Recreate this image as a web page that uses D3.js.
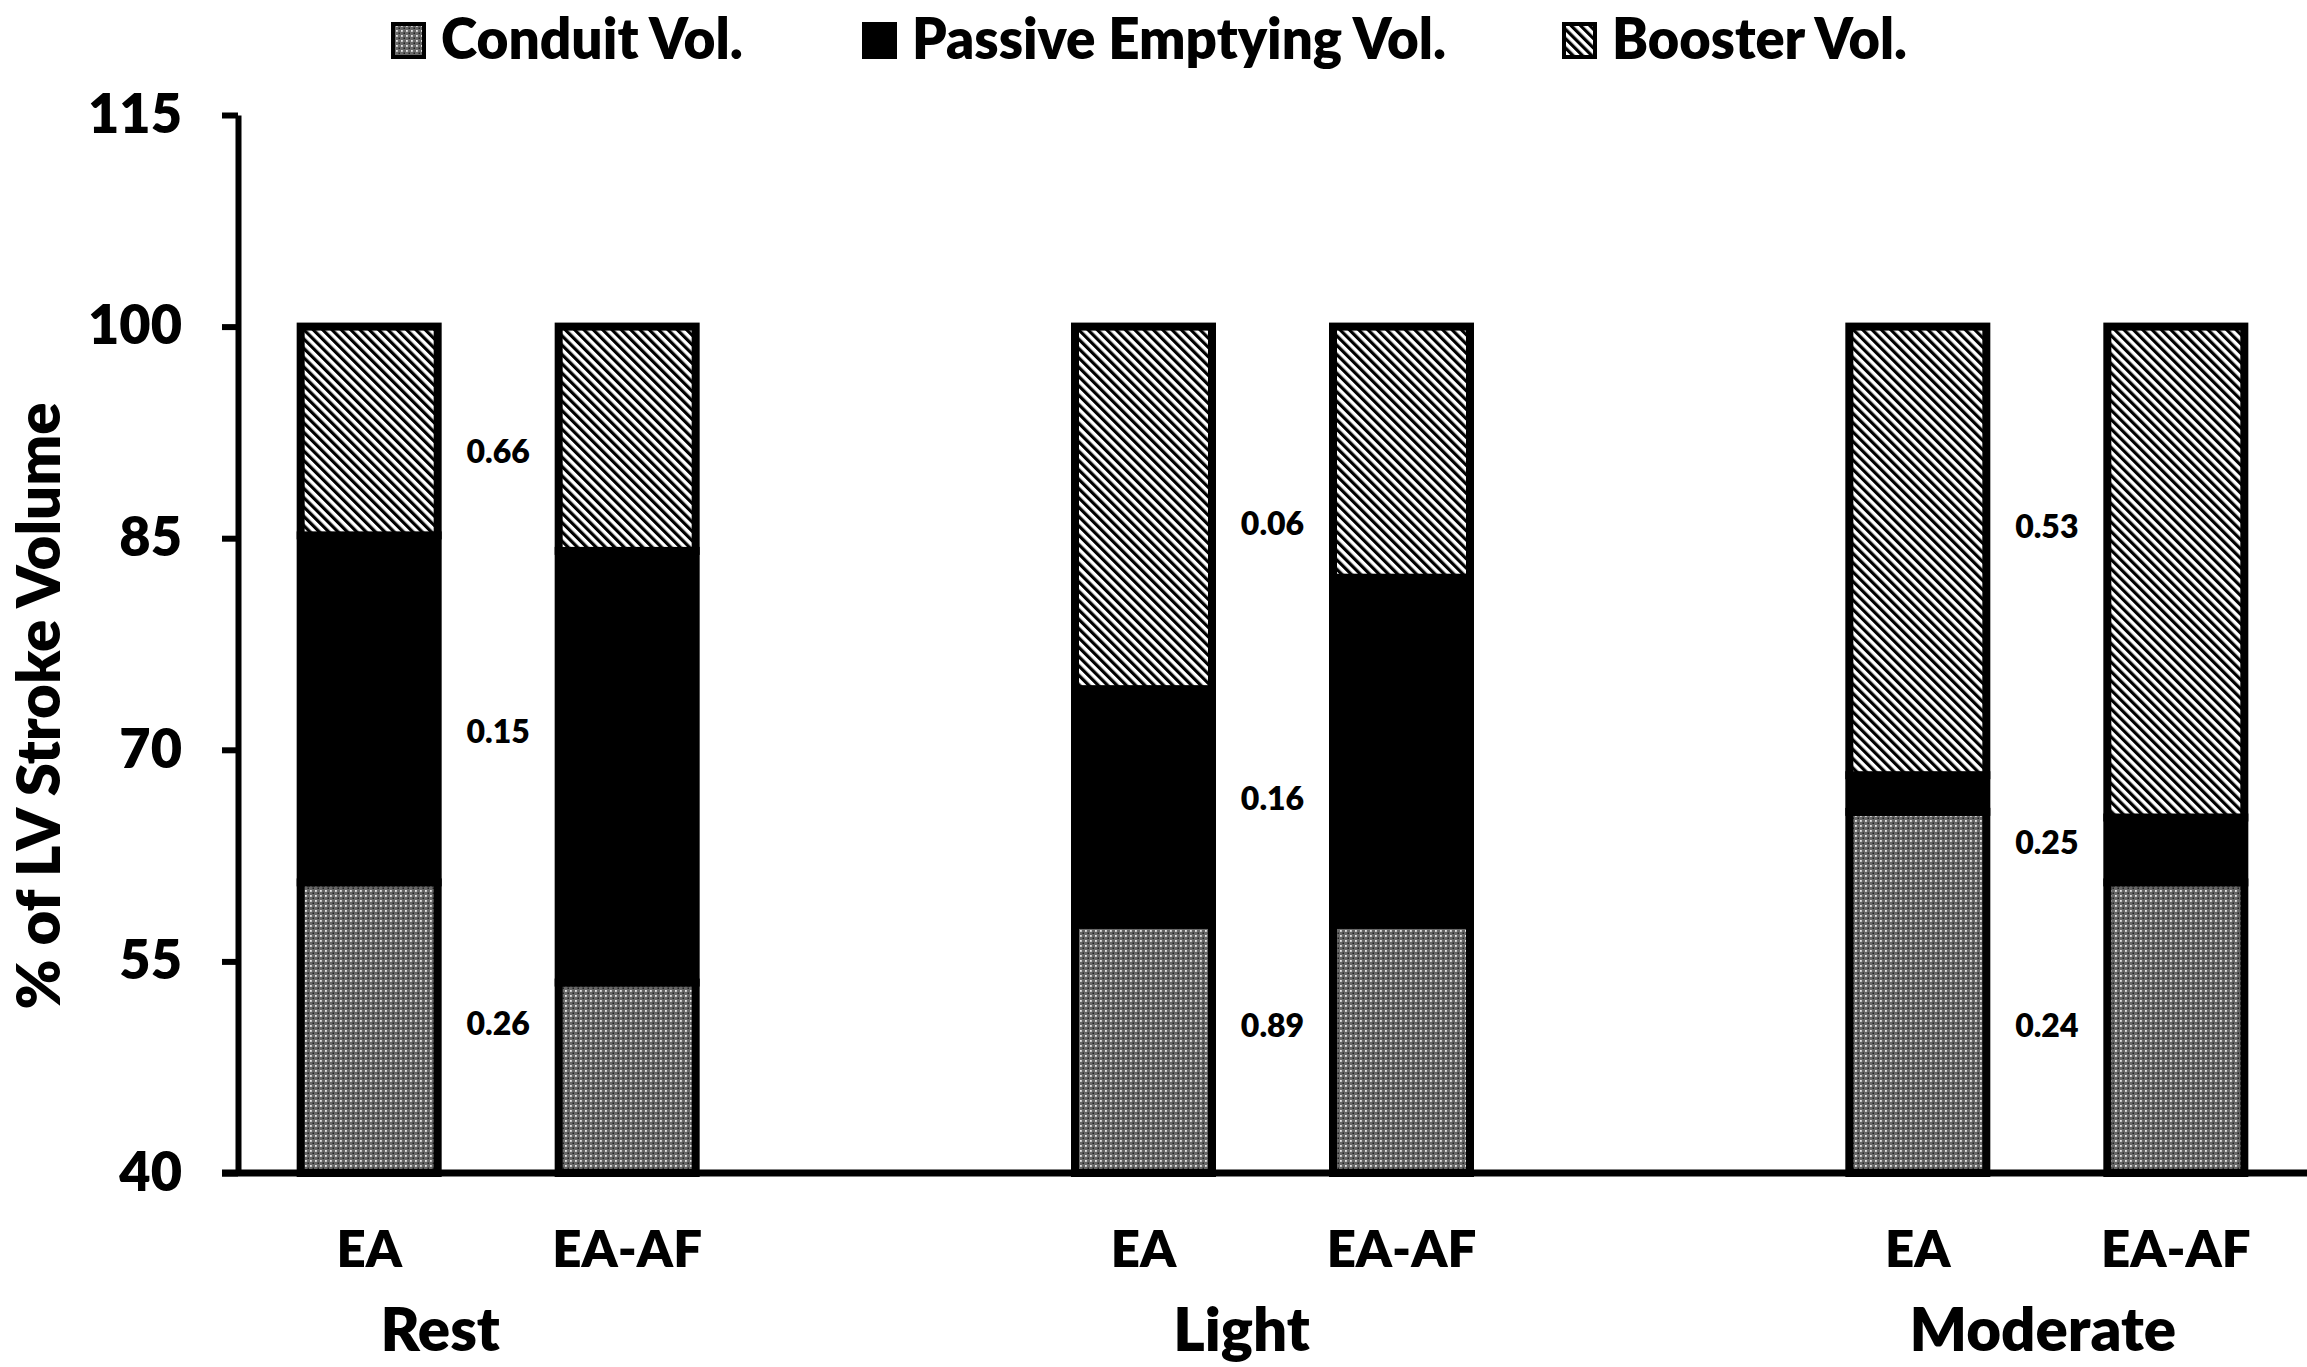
<!DOCTYPE html>
<html>
<head>
<meta charset="utf-8">
<script src="https://cdn.jsdelivr.net/npm/d3@7"></script>
<style>
  html, body { margin: 0; padding: 0; background: #fff; }
  svg { display: block; font-family: Lato, "Open Sans", sans-serif; font-weight: 800; }
</style>
</head>
<body>
<svg id="chart" width="2307" height="1367"></svg>
<script>
// ---- data ----
const groups = ["Rest", "Light", "Moderate"];
const subgroups = ["EA", "EA-AF"];
const seriesNames = ["Conduit Vol.", "Passive Emptying Vol.", "Booster Vol."];
// values per bar (Rest EA, Rest EA-AF, Light EA, Light EA-AF, Moderate EA, Moderate EA-AF), % of LV stroke volume
const conduitVol = [60.6, 53.5, 57.6, 57.6, 65.6, 60.6];
const passiveVol = [24.6, 30.6, 16.7, 24.6, 2.6, 4.6];
const boosterVol = [14.8, 15.9, 25.7, 17.8, 31.8, 34.8];
// p-values between groups (per group), and the % level where each is written
const pBooster = ["0.66", "0.06", "0.53"];
const pPassive = ["0.15", "0.16", "0.25"];
const pConduit = ["0.26", "0.89", "0.24"];
const pBoosterAt = [91.1, 86.0, 85.8];
const pPassiveAt = [71.3, 66.5, 63.4];
const pConduitAt = [50.6, 50.4, 50.4];
const yTicks = [40, 55, 70, 85, 100, 115];
const yTitle = "% of LV Stroke Volume";

// ---- layout ----
const plotL = 238, plotR = 2307, plotT = 115, plotB = 1173;
const svg = d3.select("#chart");

const rows = [];
groups.forEach((g, gi) => subgroups.forEach((s, si) => {
  const i = gi * subgroups.length + si;
  rows.push({ group: g, sub: s, "Conduit Vol.": conduitVol[i], "Passive Emptying Vol.": passiveVol[i], "Booster Vol.": boosterVol[i] });
}));

const y = d3.scaleLinear().domain([40, 115]).range([plotB, plotT]).clamp(true);
const x0 = d3.scalePoint().domain(groups).range([plotL, plotR]).padding(0.336);
const x1 = d3.scalePoint().domain(subgroups).range([-129, 129]);
const barW = 137;

// patterns
const defs = svg.append("defs");
const pc = defs.append("pattern").attr("id", "conduit").attr("patternUnits", "userSpaceOnUse")
  .attr("width", 5).attr("height", 5);
pc.append("rect").attr("width", 5).attr("height", 5).attr("fill", "#686868");
pc.append("rect").attr("x", 0).attr("y", 0).attr("width", 1.8).attr("height", 1.8).attr("fill", "#e8e8e8");
pc.append("rect").attr("x", 2.5).attr("y", 2.5).attr("width", 1.5).attr("height", 1.5).attr("fill", "#222");

const pb = defs.append("pattern").attr("id", "booster").attr("patternUnits", "userSpaceOnUse")
  .attr("width", 6.6).attr("height", 20).attr("patternTransform", "rotate(-45)");
pb.append("rect").attr("width", 6.6).attr("height", 20).attr("fill", "#fff");
pb.append("rect").attr("width", 3.2).attr("height", 20).attr("fill", "#000");

const fills = { "Conduit Vol.": "url(#conduit)", "Passive Emptying Vol.": "#000", "Booster Vol.": "url(#booster)" };

const stack = d3.stack().keys(seriesNames)(rows);

// bars
const barsG = svg.append("g");
stack.forEach(layer => {
  barsG.append("g").selectAll("rect").data(layer).join("rect")
    .attr("x", d => x0(d.data.group) + x1(d.data.sub) - barW / 2)
    .attr("width", barW)
    .attr("y", d => y(d[1]))
    .attr("height", d => y(d[0]) - y(d[1]))
    .attr("fill", fills[layer.key])
    .attr("stroke", "#000")
    .attr("stroke-width", 8);
});

// y axis
const yAxis = svg.append("g").attr("transform", `translate(${plotL},0)`)
  .call(d3.axisLeft(y).tickValues(yTicks).tickSize(16).tickPadding(40).tickSizeOuter(0));
yAxis.select(".domain").attr("stroke", "#000").attr("stroke-width", 6);
yAxis.selectAll(".tick line").attr("stroke", "#000").attr("stroke-width", 6);
yAxis.selectAll(".tick text").attr("font-size", 54).attr("font-weight", 800)
  .attr("font-family", "Lato, sans-serif").attr("fill", "#000");

// x axis line
svg.append("line").attr("x1", plotL - 16).attr("x2", plotR).attr("y1", y(40)).attr("y2", y(40))
  .attr("stroke", "#000").attr("stroke-width", 7);

// sub labels
svg.append("g").selectAll("text").data(rows).join("text")
  .attr("x", d => x0(d.group) + x1(d.sub))
  .attr("y", y(40) + 94)
  .attr("text-anchor", "middle").attr("font-size", 51).attr("fill", "#000")
  .text(d => d.sub);

// group labels
const groupDx = [-58, -31, -4];
svg.append("g").selectAll("text").data(groups).join("text")
  .attr("x", (d, i) => x0(d) + groupDx[i])
  .attr("y", y(40) + 178)
  .attr("text-anchor", "middle").attr("font-size", 60).attr("fill", "#000")
  .text(d => d);

// p-values
const pG = svg.append("g");
[[pBooster, pBoosterAt], [pPassive, pPassiveAt], [pConduit, pConduitAt]].forEach(([labels, at]) => {
  pG.append("g").selectAll("text").data(groups).join("text")
    .attr("x", d => x0(d))
    .attr("y", (d, i) => y(at[i]))
    .attr("dy", "0.35em")
    .attr("text-anchor", "middle").attr("font-size", 32).attr("fill", "#000")
    .text((d, i) => labels[i]);
});

// y title
svg.append("text")
  .attr("transform", `translate(60,706) rotate(-90)`)
  .attr("text-anchor", "middle").attr("font-size", 60).attr("fill", "#000")
  .text(yTitle);

// legend
const legendX = [391, 862, 1562];
const legendW = [302, 534, 295];
const lg = svg.append("g").selectAll("g").data(seriesNames).join("g")
  .attr("transform", (d, i) => `translate(${legendX[i]},0)`);
lg.append("rect").attr("x", 2).attr("y", 24).attr("width", 31).attr("height", 33)
  .attr("fill", d => fills[d]).attr("stroke", "#000").attr("stroke-width", 4);
lg.append("text").attr("x", 50).attr("y", 59).attr("font-size", 56).attr("fill", "#000")
  .attr("textLength", (d, i) => legendW[i]).attr("lengthAdjust", "spacingAndGlyphs")
  .text(d => d);
</script>
</body>
</html>
